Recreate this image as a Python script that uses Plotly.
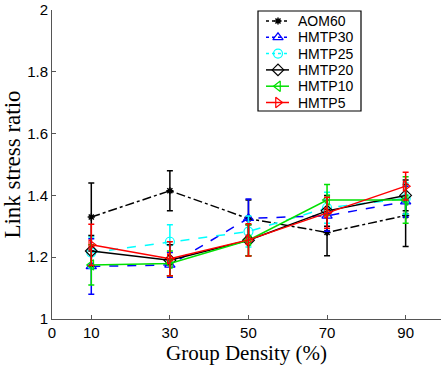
import plotly.graph_objects as go

x_vals = [10, 30, 50, 70, 90]
series_names = ["AOM60", "HMTP30", "HMTP25", "HMTP20", "HMTP10", "HMTP5"]
aom60 = [1.33, 1.415, 1.325, 1.28, 1.335]
aom60_err = [0.11, 0.065, 0.06, 0.075, 0.10]
hmtp30 = [1.17, 1.175, 1.326, 1.334, 1.38]
hmtp30_err = [0.09, 0.04, 0.062, 0.05, 0.05]
hmtp25 = [1.215, 1.25, 1.283, 1.36, 1.39]
hmtp25_err = [0.05, 0.055, 0.05, 0.05, 0.05]
hmtp20 = [1.22, 1.19, 1.255, 1.35, 1.40]
hmtp20_err = [0.05, 0.05, 0.05, 0.05, 0.05]
hmtp10 = [1.175, 1.18, 1.255, 1.385, 1.385]
hmtp10_err = [0.065, 0.04, 0.05, 0.05, 0.075]
hmtp5 = [1.24, 1.195, 1.256, 1.344, 1.43]
hmtp5_err = [0.067, 0.055, 0.052, 0.05, 0.045]

x_ticks = [0, 10, 30, 50, 70, 90]
y_ticks = [1, 1.2, 1.4, 1.6, 1.8, 2]
y_tick_labels = ["1", "1.2", "1.4", "1.6", "1.8", "2"]

styles = [
    (aom60, aom60_err, "black", "dashdot", "asterisk-open"),
    (hmtp30, hmtp30_err, "blue", "dash", "triangle-up-open"),
    (hmtp25, hmtp25_err, "cyan", "dash", "circle-open"),
    (hmtp20, hmtp20_err, "black", "solid", "diamond-open"),
    (hmtp10, hmtp10_err, "#00e000", "solid", "triangle-left-open"),
    (hmtp5, hmtp5_err, "red", "solid", "triangle-right-open"),
]

W, H = 443, 368
ML, MR, MT, MB = 52, 2, 10, 49
PW, PH = W - ML - MR, H - MT - MB


def px_to_paper(px, py):
    return (px - ML) / PW, (H - MB - py) / PH


def marker_style(symbol, color):
    return dict(symbol=symbol, size=9 if symbol != "asterisk-open" else 6,
                color=color, line=dict(color=color, width=1.2 if symbol != "asterisk-open" else 1.5))


fig = go.Figure()
for name, (ys, errs, color, dash, symbol) in zip(series_names, styles):
    fig.add_trace(go.Scatter(
        x=x_vals, y=ys, name=name, mode="lines+markers", showlegend=False,
        line=dict(color=color, width=1.5, dash=dash),
        marker=marker_style(symbol, color),
        error_y=dict(type="data", array=errs, visible=True, color=color,
                     thickness=1.5, width=3),
    ))

# custom compact legend (Matlab style)
box_x0, box_y0, box_x1, box_y1 = px_to_paper(258, 11) + px_to_paper(361, 111)
fig.add_shape(type="rect", xref="paper", yref="paper",
              x0=box_x0, y0=box_y1, x1=box_x1, y1=box_y0,
              line=dict(color="black", width=1.2), fillcolor="white", layer="below")
row_top, row_step = 21, 16.3
for i, (name, (ys, errs, color, dash, symbol)) in enumerate(zip(series_names, styles)):
    py = row_top + i * row_step
    lx0, ly = px_to_paper(266, py)
    lx1, _ = px_to_paper(289, py)
    mx, _ = px_to_paper(278, py)
    tx, _ = px_to_paper(296, py)
    fig.add_trace(go.Scatter(
        x=[lx0, mx, lx1], y=[ly, ly, ly], xaxis="x2", yaxis="y2",
        mode="lines", showlegend=False, hoverinfo="skip",
        line=dict(color=color, width=1.5, dash="dot" if dash != "solid" else "solid"),
    ))
    fig.add_trace(go.Scatter(
        x=[mx], y=[ly], xaxis="x2", yaxis="y2", mode="markers",
        showlegend=False, hoverinfo="skip",
        marker=marker_style(symbol, color),
    ))
    fig.add_annotation(x=tx, y=ly, xref="paper", yref="paper", text=name,
                       showarrow=False, xanchor="left", yanchor="middle",
                       font=dict(family="Liberation Sans, Arial", size=14, color="black"))

fig.update_layout(
    width=W, height=H,
    margin=dict(l=ML, r=MR, t=MT, b=MB),
    plot_bgcolor="white", paper_bgcolor="white",
    font=dict(family="Liberation Sans, Arial", size=15, color="black"),
    showlegend=False,
    xaxis2=dict(overlaying="x", range=[0, 1], visible=False),
    yaxis2=dict(overlaying="y", range=[0, 1], visible=False),
)
fig.update_layout(xaxis=dict(
    range=[0, 99], tickvals=x_ticks, ticktext=[str(v) for v in x_ticks],
    showgrid=False, zeroline=False, showline=True, linecolor="#555555", linewidth=1,
    ticks="inside", ticklen=4, tickcolor="#555555",
    title=dict(text="Group Density (%)", font=dict(family="Liberation Serif, Times New Roman", size=21), standoff=2),
))
fig.update_layout(yaxis=dict(
    range=[1, 2], tickvals=y_ticks, ticktext=y_tick_labels,
    showgrid=False, zeroline=False, showline=True, linecolor="#555555", linewidth=1,
    ticks="inside", ticklen=4, tickcolor="#555555", ticklabeloverflow="allow",
    title=dict(text="Link stress ratio", font=dict(family="Liberation Serif, Times New Roman", size=23), standoff=2),
))

fig.write_html("out.html", config={"displayModeBar": False},
               post_script="document.body.style.margin='0px';")
